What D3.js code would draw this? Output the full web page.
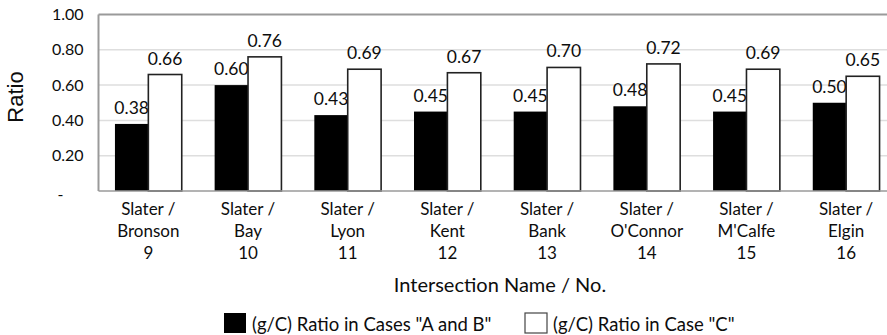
<!DOCTYPE html>
<html>
<head>
<meta charset="utf-8">
<script src="https://cdn.jsdelivr.net/npm/d3@7"></script>
<style>
  html, body { margin: 0; padding: 0; background: #fff; }
  svg { display: block; font-family: "Lato", "Open Sans", sans-serif; }
</style>
</head>
<body>
<svg id="chart" width="887" height="335"></svg>
<script>
// Intersections along Slater St.
const streets = ["Bronson", "Bay", "Lyon", "Kent", "Bank", "O'Connor", "M'Calfe", "Elgin"];
const numbers = [9, 10, 11, 12, 13, 14, 15, 16];
// Green-to-cycle ratio for each scenario
const ratioAB = [0.38, 0.60, 0.43, 0.45, 0.45, 0.48, 0.45, 0.50];
const ratioC  = [0.66, 0.76, 0.69, 0.67, 0.70, 0.72, 0.69, 0.65];
const seriesNames = ["(g/C) Ratio in Cases \"A and B\"", "(g/C) Ratio in Case \"C\""];
const yTicks = [0, 0.2, 0.4, 0.6, 0.8, 1.0];

const svg = d3.select("#chart");
const plotL = 98.5, plotR = 896, plotT = 14.5, plotB = 191;
const ink = "#0d0d0d";

const x = d3.scaleBand().domain(numbers).range([plotL, plotR]).paddingInner(0.33).paddingOuter(0.165);
const y = d3.scaleLinear().domain([0, 1]).range([plotB, plotT]);

// horizontal gridlines
svg.append("g").selectAll("line").data(yTicks.filter(t => t > 0 && t < 1)).join("line")
  .attr("x1", plotL).attr("x2", 887)
  .attr("y1", d => y(d)).attr("y2", d => y(d))
  .attr("stroke", "#dedede").attr("stroke-width", 1.5);

// plot frame: top and left edges
svg.append("line").attr("x1", plotL).attr("x2", 887).attr("y1", y(1)).attr("y2", y(1))
  .attr("stroke", "#9a9a9a").attr("stroke-width", 2);
svg.append("line").attr("x1", plotL).attr("x2", plotL).attr("y1", y(1)).attr("y2", y(0))
  .attr("stroke", "#9a9a9a").attr("stroke-width", 2);

// y axis labels
const yAxis = d3.axisLeft(y).tickValues(yTicks)
  .tickFormat(d => d === 0 ? "-" : d3.format(".2f")(d)).tickSize(0).tickPadding(15);
const yg = svg.append("g").attr("transform", `translate(${plotL},0)`).call(yAxis);
yg.select(".domain").remove();
yg.selectAll("text").attr("font-size", 16).attr("fill", ink)
  .attr("font-family", "Lato, sans-serif");
yg.selectAll("text").filter(d => d === 0).attr("dx", -20).attr("dy", "0.55em");

svg.append("text")
  .attr("transform", `translate(23,97) rotate(-90)`)
  .attr("text-anchor", "middle").attr("font-size", 22).attr("fill", ink)
  .attr("font-family", "'Liberation Sans', Arial, sans-serif")
  .text("Ratio");

// bars
const inner = d3.scaleBand().domain([0, 1]).range([0, x.bandwidth()]);
const series = [ratioAB, ratioC];
const fills = ["#000", "#fff"];

const groups = svg.append("g").selectAll("g").data(numbers).join("g")
  .attr("transform", d => `translate(${x(d)},0)`);

series.forEach((vals, s) => {
  groups.append("rect")
    .attr("x", inner(s))
    .attr("y", (d, i) => y(vals[i]))
    .attr("width", inner.bandwidth())
    .attr("height", (d, i) => y(0) - y(vals[i]))
    .attr("fill", fills[s])
    .attr("stroke", "#222").attr("stroke-width", s === 1 ? 1.6 : 0);
  groups.append("text")
    .attr("x", inner(s) + inner.bandwidth() / 2)
    .attr("y", (d, i) => y(vals[i]) - 10)
    .attr("text-anchor", "middle").attr("font-size", 17.5).attr("fill", ink)
    .text((d, i) => d3.format(".2f")(vals[i]));
});

// baseline
svg.append("line").attr("x1", plotL).attr("x2", 887).attr("y1", y(0)).attr("y2", y(0))
  .attr("stroke", "#9a9a9a").attr("stroke-width", 1.5);

// category labels
const cat = groups.append("text").attr("text-anchor", "middle")
  .attr("font-size", 17).attr("fill", ink);
cat.append("tspan").attr("x", x.bandwidth() / 2).attr("y", y(0) + 24).text("Slater /");
cat.append("tspan").attr("x", x.bandwidth() / 2).attr("y", y(0) + 46).text((d, i) => streets[i]);
cat.append("tspan").attr("x", x.bandwidth() / 2).attr("y", y(0) + 68).text(d => d);

// x axis title
svg.append("text").attr("x", 500).attr("y", 292).attr("text-anchor", "middle")
  .attr("font-size", 20).attr("fill", ink).text("Intersection Name / No.");

// legend
const legend = svg.append("g");
const legendX = [224, 525];
seriesNames.forEach((name, s) => {
  legend.append("rect").attr("x", legendX[s]).attr("y", 313).attr("width", 22).attr("height", 20)
    .attr("fill", fills[s]).attr("stroke", s === 1 ? "#444" : "none").attr("stroke-width", 1.2);
  legend.append("text").attr("x", legendX[s] + 28).attr("y", 331)
    .attr("font-size", 18.5).attr("fill", ink).text(name);
});
</script>
</body>
</html>
